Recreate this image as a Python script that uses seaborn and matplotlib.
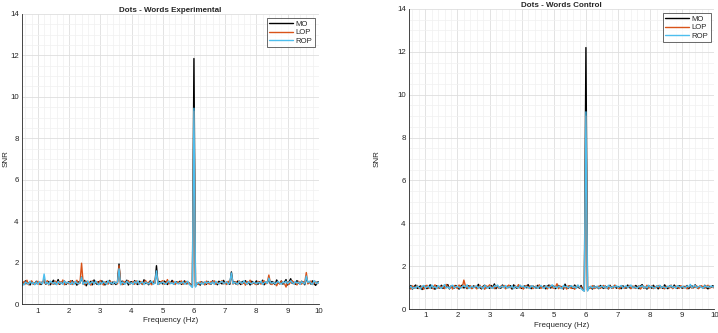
import numpy as np
import pandas as pd
import matplotlib
matplotlib.use("Agg")
import matplotlib.pyplot as plt
import seaborn as sns
from matplotlib.ticker import MultipleLocator

# frequency bins 0.5 .. 10 Hz, 0.05 Hz resolution
freq = np.round(np.arange(0.5, 10.0001, 0.05), 2)

exp_mo = [
    1.05, 0.95, 1.12, 0.98, 1.02, 0.92, 1.08, 1.00, 0.95, 1.10,
    0.98, 1.03, 0.94, 1.07, 1.12, 0.96, 1.01, 1.09, 0.93, 1.04,
    1.15, 0.97, 1.02, 1.18, 0.95, 1.06, 0.99, 1.11, 0.94, 1.03,
    1.08, 0.96, 1.13, 0.99, 1.04, 0.91, 1.07, 1.02, 1.30, 0.97,
    1.14, 0.88, 1.05, 0.98, 1.10, 0.93, 1.16, 1.01, 0.95, 1.08,
    0.97, 1.12, 1.03, 0.92, 1.09, 0.99, 1.14, 0.95, 1.06, 1.01,
    0.94, 1.07, 1.93, 0.98, 1.11, 0.96, 1.03, 1.15, 0.92, 1.05,
    1.08, 0.97, 1.13, 1.00, 0.94, 1.10, 1.02, 0.96, 1.17, 0.99,
    1.04, 0.93, 1.12, 0.98, 1.06, 1.01, 1.85, 0.95, 1.09, 1.03,
    0.97, 1.11, 1.05, 0.94, 1.08, 1.00, 1.14, 0.96, 1.02, 1.07,
    0.99, 1.10, 0.95, 1.04, 1.12, 0.97, 1.06, 1.01, 0.93, 0.85,
    11.85, 0.88, 0.96, 1.02, 0.91, 1.07, 0.98, 1.04, 0.95, 1.09,
    1.01, 0.96, 1.12, 0.99, 1.05, 0.93, 1.10, 1.03, 0.97, 1.14,
    0.98, 1.06, 1.02, 0.95, 1.55, 1.00, 1.08, 0.96, 1.11, 1.03,
    0.94, 1.09, 1.01, 1.13, 0.97, 1.05, 0.92, 1.10, 1.04, 0.98,
    1.12, 0.95, 1.07, 1.00, 1.15, 0.93, 1.06, 1.02, 1.20, 0.97,
    1.09, 1.01, 0.94, 1.16, 1.03, 0.98, 1.11, 0.96, 1.05, 1.18,
    0.92, 1.08, 1.22, 0.99, 1.06, 0.95, 1.13, 1.02, 0.97, 1.10,
    1.04, 0.93, 1.30, 1.01, 1.07, 0.96, 1.12, 0.98, 0.90, 1.05,
    1.08,
]
exp_lop = [
    0.90, 1.08, 0.97, 1.15, 0.93, 1.05, 1.12, 0.95, 1.03, 0.98,
    1.10, 0.94, 1.06, 1.01, 1.20, 0.97, 1.13, 0.92, 1.07, 1.00,
    0.95, 1.11, 1.04, 0.96, 1.09, 0.99, 1.16, 0.93, 1.05, 1.02,
    0.97, 1.13, 0.94, 1.08, 1.01, 1.15, 0.96, 1.04, 1.97, 1.02,
    0.93, 1.10, 0.99, 1.06, 0.91, 1.12, 0.97, 1.03, 1.08, 0.95,
    1.14, 1.00, 0.92, 1.07, 1.03, 0.96, 1.11, 1.05, 0.94, 1.09,
    1.02, 0.97, 1.85, 1.04, 0.93, 1.10, 0.99, 1.06, 1.13, 0.96,
    1.01, 1.08, 0.95, 1.12, 1.03, 0.97, 1.09, 0.94, 1.05, 1.14,
    0.98, 1.06, 1.00, 0.93, 1.11, 1.04, 1.50, 1.02, 0.96, 1.08,
    1.13, 0.95, 1.01, 1.18, 0.97, 1.06, 1.00, 1.10, 0.94, 1.03,
    1.07, 0.98, 1.12, 0.95, 1.04, 1.09, 0.97, 1.02, 0.90, 0.82,
    9.30, 0.85, 1.02, 0.94, 1.08, 0.99, 1.05, 0.92, 1.11, 1.00,
    0.96, 1.09, 1.03, 1.12, 0.95, 1.06, 0.98, 1.04, 1.13, 0.97,
    1.05, 0.94, 1.10, 1.01, 1.40, 0.96, 1.03, 1.08, 0.93, 1.12,
    1.00, 0.97, 1.06, 0.91, 1.09, 1.02, 1.15, 0.95, 1.04, 0.99,
    0.93, 1.10, 1.02, 0.96, 1.08, 1.12, 0.97, 1.05, 1.40, 1.01,
    0.94, 1.07, 1.00, 0.88, 1.05, 0.97, 1.11, 1.03, 0.99, 0.82,
    1.06, 0.95, 1.09, 1.13, 0.98, 1.04, 0.92, 1.10, 1.01, 0.96,
    1.08, 1.03, 1.52, 0.97, 1.06, 1.11, 0.94, 1.02, 1.09, 0.98,
    1.04,
]
exp_rop = [
    1.00, 0.92, 1.06, 1.01, 0.96, 1.10, 0.98, 1.04, 0.93, 1.07,
    0.95, 1.08, 1.02, 0.97, 1.45, 0.99, 1.05, 0.94, 1.11, 1.03,
    0.98, 1.06, 0.93, 1.09, 1.00, 1.04, 0.95, 1.12, 0.99, 1.05,
    1.02, 0.96, 1.07, 0.94, 1.10, 1.01, 0.97, 1.05, 1.30, 0.95,
    1.06, 0.99, 1.12, 0.94, 1.03, 1.08, 0.96, 1.11, 1.00, 0.93,
    1.05, 0.97, 1.09, 1.02, 0.95, 1.13, 1.00, 1.04, 0.96, 1.08,
    0.99, 1.05, 1.70, 0.93, 1.07, 1.01, 0.96, 1.10, 1.03, 0.97,
    1.04, 0.95, 1.08, 1.00, 1.12, 0.96, 1.03, 1.07, 0.94, 1.06,
    1.01, 0.97, 1.05, 1.10, 0.95, 1.02, 1.60, 0.94, 1.04, 0.99,
    1.07, 1.00, 0.96, 1.05, 1.11, 0.98, 1.03, 0.95, 1.09, 1.01,
    0.97, 1.04, 1.00, 1.08, 0.96, 1.02, 1.10, 0.95, 0.88, 0.80,
    9.45, 0.82, 0.99, 1.05, 0.97, 1.03, 0.95, 1.08, 1.00, 1.06,
    1.03, 0.98, 1.07, 0.95, 1.10, 1.01, 0.97, 1.05, 1.09, 0.99,
    1.02, 1.07, 0.96, 1.04, 1.50, 0.98, 1.06, 1.01, 0.95, 1.09,
    1.04, 0.99, 1.12, 1.02, 0.96, 1.08, 1.01, 0.97, 1.06, 1.03,
    0.98, 1.05, 1.00, 1.10, 0.95, 1.03, 1.08, 0.99, 1.25, 1.04,
    1.00, 1.06, 0.97, 1.04, 1.09, 1.01, 0.96, 1.07, 1.02, 1.10,
    0.99, 1.05, 1.12, 1.03, 0.97, 1.09, 1.01, 1.06, 0.95, 1.08,
    1.02, 0.97, 1.35, 1.04, 1.10, 1.00, 0.95, 1.13, 1.05, 0.99,
    1.06,
]

ctl_mo = [
    0.98, 1.10, 0.93, 1.05, 1.12, 0.96, 1.02, 1.08, 0.91, 1.04,
    1.07, 0.95, 1.01, 1.13, 0.97, 1.06, 0.92, 1.09, 1.03, 0.98,
    1.11, 0.96, 1.04, 1.00, 1.14, 0.94, 1.07, 1.02, 0.97, 1.10,
    1.01, 0.93, 1.06, 1.12, 0.98, 1.04, 0.95, 1.09, 1.02, 0.96,
    1.08, 1.03, 0.97, 1.15, 1.00, 0.94, 1.06, 1.11, 0.99, 1.05,
    0.96, 1.10, 1.02, 1.17, 0.95, 1.07, 1.01, 0.97, 1.12, 1.04,
    0.98, 1.06, 1.00, 1.09, 0.93, 1.13, 1.02, 0.97, 1.05, 1.10,
    0.96, 1.04, 1.08, 0.99, 1.14, 1.01, 0.95, 1.07, 1.03, 0.98,
    1.11, 0.97, 1.05, 1.00, 1.09, 0.94, 1.06, 1.12, 0.98, 1.03,
    1.07, 0.95, 1.02, 1.10, 0.99, 1.05, 0.93, 1.16, 1.01, 0.97,
    1.08, 1.03, 0.96, 1.12, 1.00, 1.05, 0.97, 1.10, 0.92, 0.86,
    12.20, 0.90, 0.97, 1.05, 0.93, 1.08, 0.99, 1.03, 0.95, 1.10,
    1.02, 0.96, 1.07, 1.01, 0.94, 1.11, 0.98, 1.04, 1.09, 0.97,
    1.05, 1.00, 0.95, 1.08, 1.03, 0.97, 1.12, 1.01, 0.96, 1.06,
    0.99, 1.10, 1.04, 0.95, 1.07, 1.14, 0.98, 1.02, 0.93, 1.09,
    1.03, 0.97, 1.11, 1.00, 1.06, 0.94, 1.08, 1.02, 0.96, 1.13,
    1.01, 0.95, 1.07, 1.04, 0.98, 1.12, 1.00, 0.96, 1.09, 1.03,
    0.97, 1.06, 1.01, 1.10, 0.95, 1.04, 1.08, 0.99, 1.13, 1.02,
    0.96, 1.07, 1.03, 0.98, 1.11, 1.00, 0.94, 1.06, 1.02, 1.09,
    1.00,
]
ctl_lop = [
    1.05, 0.93, 1.08, 0.97, 1.03, 1.10, 0.95, 1.01, 1.07, 0.92,
    1.04, 1.11, 0.96, 1.02, 1.08, 0.94, 1.13, 1.00, 0.97, 1.06,
    1.01, 1.09, 0.95, 1.15, 1.03, 0.98, 1.07, 0.93, 1.10, 1.02,
    0.96, 1.12, 1.04, 0.99, 1.35, 1.06, 0.97, 1.03, 1.09, 0.95,
    1.02, 1.07, 0.94, 1.01, 1.11, 0.97, 1.05, 0.92, 1.08, 1.03,
    1.13, 0.98, 1.04, 0.95, 1.09, 1.01, 0.96, 1.07, 1.02, 1.10,
    0.94, 1.05, 1.12, 0.99, 1.03, 0.96, 1.08, 1.00, 1.14, 0.97,
    1.06, 0.93, 1.02, 1.10, 0.98, 1.05, 1.09, 0.95, 1.03, 1.07,
    0.99, 1.13, 0.96, 1.04, 1.01, 1.08, 0.94, 1.06, 1.10, 1.00,
    0.97, 1.03, 1.18, 0.95, 1.07, 1.02, 0.98, 1.05, 0.93, 1.09,
    1.01, 0.96, 1.06, 0.92, 1.04, 1.10, 0.99, 1.03, 0.90, 0.84,
    9.00, 0.86, 1.03, 0.97, 1.09, 0.95, 1.04, 1.00, 1.07, 0.96,
    1.05, 1.10, 0.98, 1.03, 0.95, 1.07, 1.01, 0.97, 1.12, 1.04,
    0.99, 0.94, 1.08, 1.02, 0.97, 1.05, 1.00, 1.10, 0.95, 1.03,
    1.07, 0.96, 1.01, 1.09, 0.93, 1.04, 1.06, 0.99, 1.11, 0.97,
    1.02, 1.08, 0.95, 1.04, 1.00, 1.10, 0.97, 1.05, 1.01, 0.94,
    1.06, 1.03, 0.98, 1.12, 0.95, 1.02, 1.07, 1.00, 0.96, 1.09,
    1.04, 0.98, 1.06, 0.94, 1.02, 1.10, 0.97, 1.05, 1.01, 1.08,
    0.95, 1.03, 1.09, 1.00, 0.97, 1.06, 1.11, 0.96, 1.04, 1.02,
    0.98,
]
ctl_rop = [
    1.00, 1.06, 0.95, 1.02, 0.97, 1.08, 1.01, 0.94, 1.05, 1.10,
    0.98, 1.03, 1.07, 0.96, 1.12, 1.00, 1.04, 0.95, 1.09, 1.02,
    0.97, 1.05, 1.14, 0.99, 1.03, 0.96, 1.08, 1.11, 0.98, 1.04,
    1.06, 1.00, 0.97, 1.05, 1.09, 1.02, 1.13, 0.96, 1.01, 1.07,
    0.99, 1.04, 1.08, 0.97, 1.06, 1.02, 0.95, 1.10, 1.03, 0.98,
    1.05, 1.01, 0.96, 1.09, 1.04, 1.12, 0.98, 1.03, 1.07, 0.99,
    1.10, 0.97, 1.04, 1.01, 1.08, 0.95, 1.06, 1.02, 0.98, 1.11,
    1.03, 1.07, 0.99, 1.05, 1.01, 0.96, 1.09, 1.04, 1.00, 1.06,
    0.97, 1.05, 1.10, 1.02, 0.96, 1.08, 1.03, 0.99, 1.06, 1.13,
    1.01, 1.04, 0.98, 1.07, 1.02, 0.95, 1.10, 1.03, 1.06, 0.99,
    1.04, 1.09, 1.00, 1.05, 0.97, 1.12, 1.02, 0.96, 0.88, 0.83,
    9.20, 0.84, 1.00, 1.06, 0.98, 1.04, 1.01, 1.07, 0.97, 1.03,
    1.08, 1.00, 1.05, 0.97, 1.11, 1.03, 0.99, 1.06, 1.02, 1.09,
    1.01, 1.05, 1.10, 0.98, 1.04, 1.08, 1.00, 1.06, 1.12, 0.99,
    1.04, 1.01, 0.97, 1.07, 1.03, 1.09, 1.00, 1.05, 0.98, 1.11,
    1.02, 1.06, 1.00, 0.97, 1.08, 1.03, 1.11, 0.99, 1.05, 1.01,
    0.98, 1.07, 1.03, 1.10, 1.00, 1.05, 0.97, 1.09, 1.04, 1.01,
    1.06, 1.02, 0.98, 1.08, 1.03, 1.15, 1.00, 1.05, 1.10, 0.99,
    1.04, 1.07, 1.01, 0.97, 1.09, 1.03, 1.06, 1.00, 1.08, 1.02,
    1.05,
]

regions = ["MO", "LOP", "ROP"]
colors = {"MO": "#000000", "LOP": "#D95319", "ROP": "#4DBEEE"}
titles = ["Dots - Words Experimental", "Dots - Words Control"]
panels = [[exp_mo, exp_lop, exp_rop], [ctl_mo, ctl_lop, ctl_rop]]

sns.set_style("white")
plt.rcParams["font.family"] = ["Liberation Sans", "DejaVu Sans"]

fig = plt.figure(figsize=(7.18, 3.33), dpi=100)
axes = [fig.add_axes([0.031, 0.087, 0.413, 0.871]),
        fig.add_axes([0.570, 0.072, 0.425, 0.901])]
ylab_x = [-0.044, -0.095]

for ax, title, series, lx in zip(axes, titles, panels, ylab_x):
    df = pd.DataFrame({"freq": np.tile(freq, 3),
                       "snr": np.concatenate(series),
                       "region": np.repeat(regions, len(freq))})
    sns.lineplot(data=df, x="freq", y="snr", hue="region", palette=colors,
                 hue_order=regions, linewidth=1.0, ax=ax, estimator=None)
    ax.set_xlim(0.5, 10)
    ax.set_ylim(0, 14)
    ax.xaxis.set_major_locator(MultipleLocator(1))
    ax.xaxis.set_minor_locator(MultipleLocator(0.2))
    ax.yaxis.set_major_locator(MultipleLocator(2))
    ax.yaxis.set_minor_locator(MultipleLocator(0.5))
    ax.grid(which="major", color="#dedede", linewidth=0.6)
    ax.grid(which="minor", color="#f0f0f0", linewidth=0.5)
    ax.set_axisbelow(True)
    for s in ["top", "right"]:
        ax.spines[s].set_visible(False)
    for s in ["left", "bottom"]:
        ax.spines[s].set_color("#262626")
        ax.spines[s].set_linewidth(0.6)
    ax.tick_params(which="both", direction="in", labelsize=5.7,
                   colors="#262626", width=0.5, pad=2.5)
    ax.tick_params(which="major", length=3)
    ax.tick_params(which="minor", length=1.5)
    ax.set_title(title, fontsize=5.8, fontweight="bold", pad=1.5)
    ax.set_xlabel("Frequency (Hz)", fontsize=5.8, color="#262626", labelpad=2)
    ax.set_ylabel("SNR", fontsize=5.8, color="#262626")
    ax.yaxis.set_label_coords(lx, 0.5)
    leg = ax.legend(loc="upper right", fontsize=5.6, handlelength=3.1,
                    frameon=True, fancybox=False, borderpad=0.3,
                    labelspacing=0.15, handletextpad=0.3)
    leg.get_frame().set_edgecolor("#262626")
    leg.get_frame().set_linewidth(0.6)

fig.savefig("out.png", dpi=100)
